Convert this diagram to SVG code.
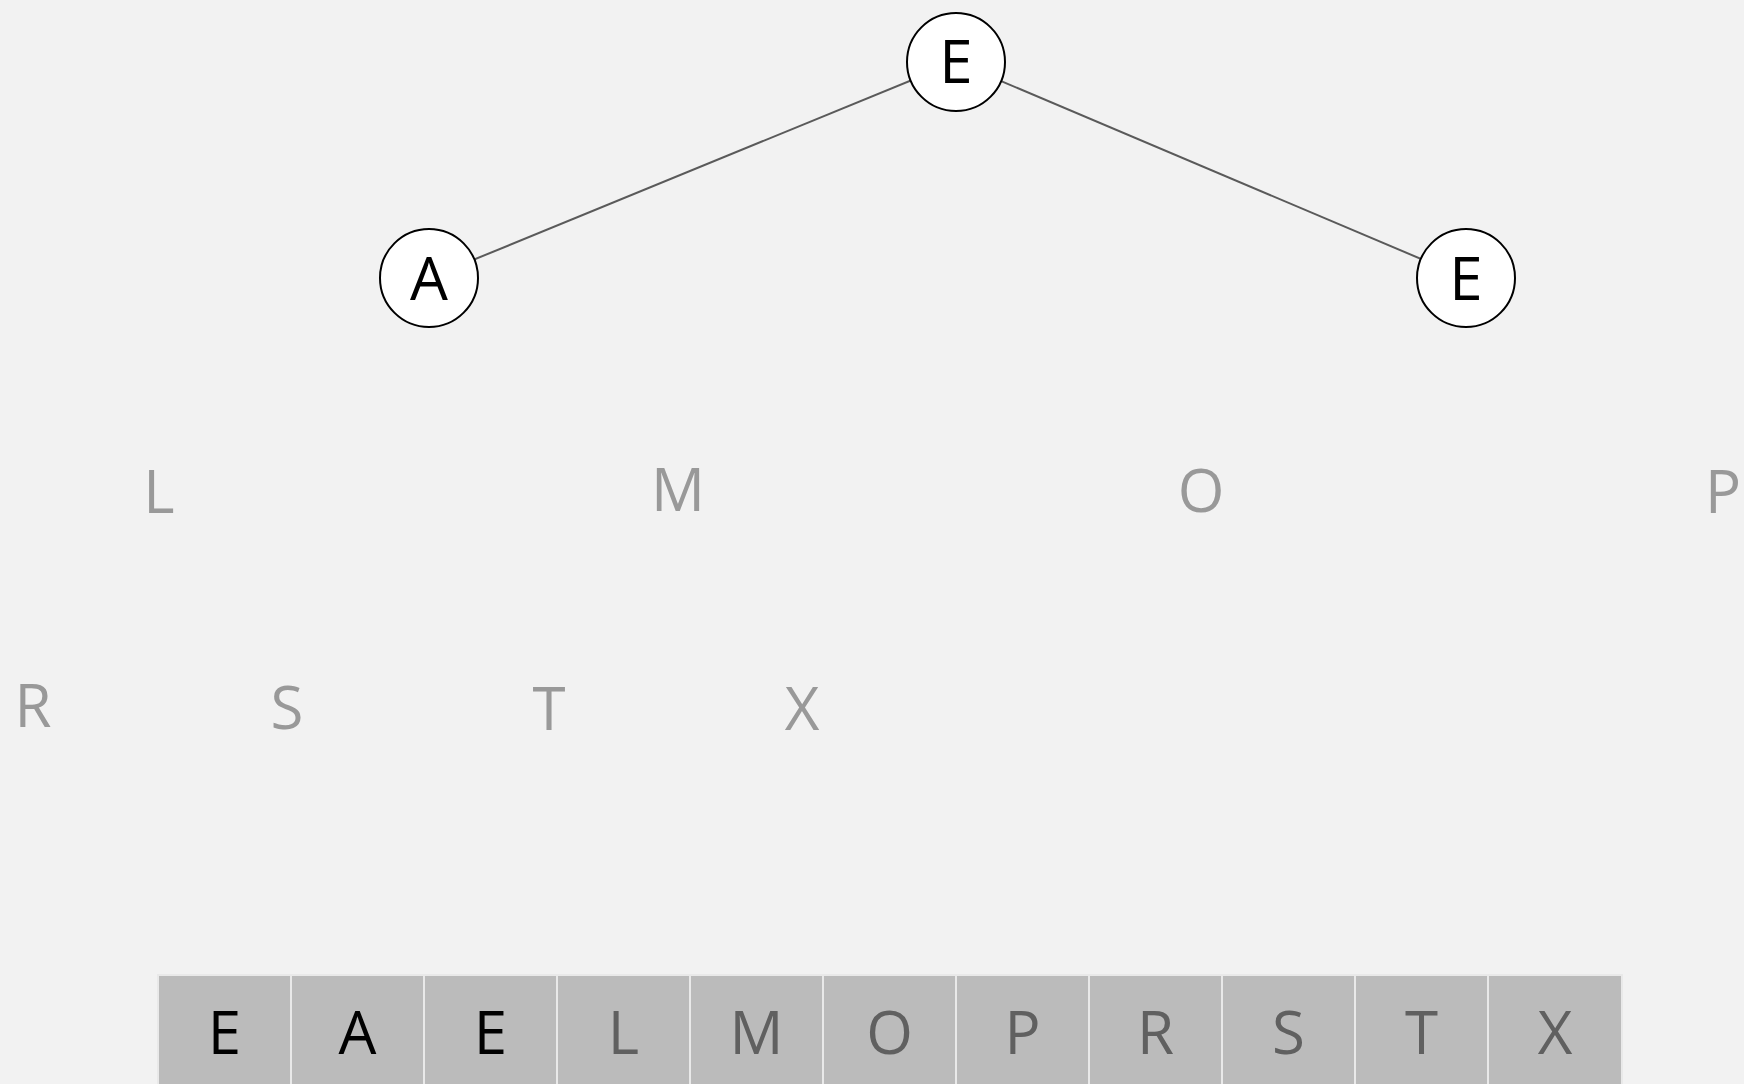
<svg xmlns="http://www.w3.org/2000/svg" width="1744" height="1084" viewBox="0 0 1744 1084">
<style>
.bg{fill:#f2f2f2}
.edge{stroke:#5a5a5a;stroke-width:2;fill:none}
.node circle{fill:#ffffff;stroke:#000000;stroke-width:2}
.t{font-family:"Open Sans","Noto Sans",sans-serif;font-size:60px;text-anchor:middle}
.nt{fill:#000000}
.ft{fill:#999999}
.cell rect{fill:#bbbbbb;stroke:#e9e9e9;stroke-width:2}
.ck{fill:#000000}
.cg{fill:#606060}
</style>
<rect class="bg" x="0" y="0" width="1744" height="1084"/>
<g id="connectors">
<line class="edge" x1="956" y1="62" x2="429" y2="278"/>
<line class="edge" x1="956" y1="62" x2="1466" y2="278"/>
</g>
<g id="node-root" class="node"><circle cx="956" cy="62" r="49"/><text class="t nt" x="956" y="83">E</text></g>
<g id="node-A" class="node"><circle cx="429" cy="278" r="49"/><text class="t nt" x="429" y="300">A</text></g>
<g id="node-E2" class="node"><circle cx="1466" cy="278" r="49"/><text class="t nt" x="1466" y="300">E</text></g>
<g id="floating">
<text class="t ft" x="159" y="513">L</text>
<text class="t ft" x="678" y="511">M</text>
<text class="t ft" x="1201" y="512">O</text>
<text class="t ft" x="1723" y="513">P</text>
<text class="t ft" x="33" y="727">R</text>
<text class="t ft" x="287" y="729">S</text>
<text class="t ft" x="549" y="730">T</text>
<text class="t ft" x="802" y="730">X</text>
</g>
<g id="array" class="cell">
<rect x="158" y="975" width="133" height="120"/>
<rect x="291" y="975" width="133" height="120"/>
<rect x="424" y="975" width="133" height="120"/>
<rect x="557" y="975" width="133" height="120"/>
<rect x="690" y="975" width="133" height="120"/>
<rect x="823" y="975" width="133" height="120"/>
<rect x="956" y="975" width="133" height="120"/>
<rect x="1089" y="975" width="133" height="120"/>
<rect x="1222" y="975" width="133" height="120"/>
<rect x="1355" y="975" width="133" height="120"/>
<rect x="1488" y="975" width="134" height="120"/>
<text class="t ck" x="224.5" y="1054">E</text>
<text class="t ck" x="357.5" y="1054">A</text>
<text class="t ck" x="490.5" y="1054">E</text>
<text class="t cg" x="623.5" y="1054">L</text>
<text class="t cg" x="756.5" y="1054">M</text>
<text class="t cg" x="889.5" y="1054">O</text>
<text class="t cg" x="1022.5" y="1054">P</text>
<text class="t cg" x="1155.5" y="1054">R</text>
<text class="t cg" x="1288.5" y="1054">S</text>
<text class="t cg" x="1421.5" y="1054">T</text>
<text class="t cg" x="1555" y="1054">X</text>
</g>
</svg>
